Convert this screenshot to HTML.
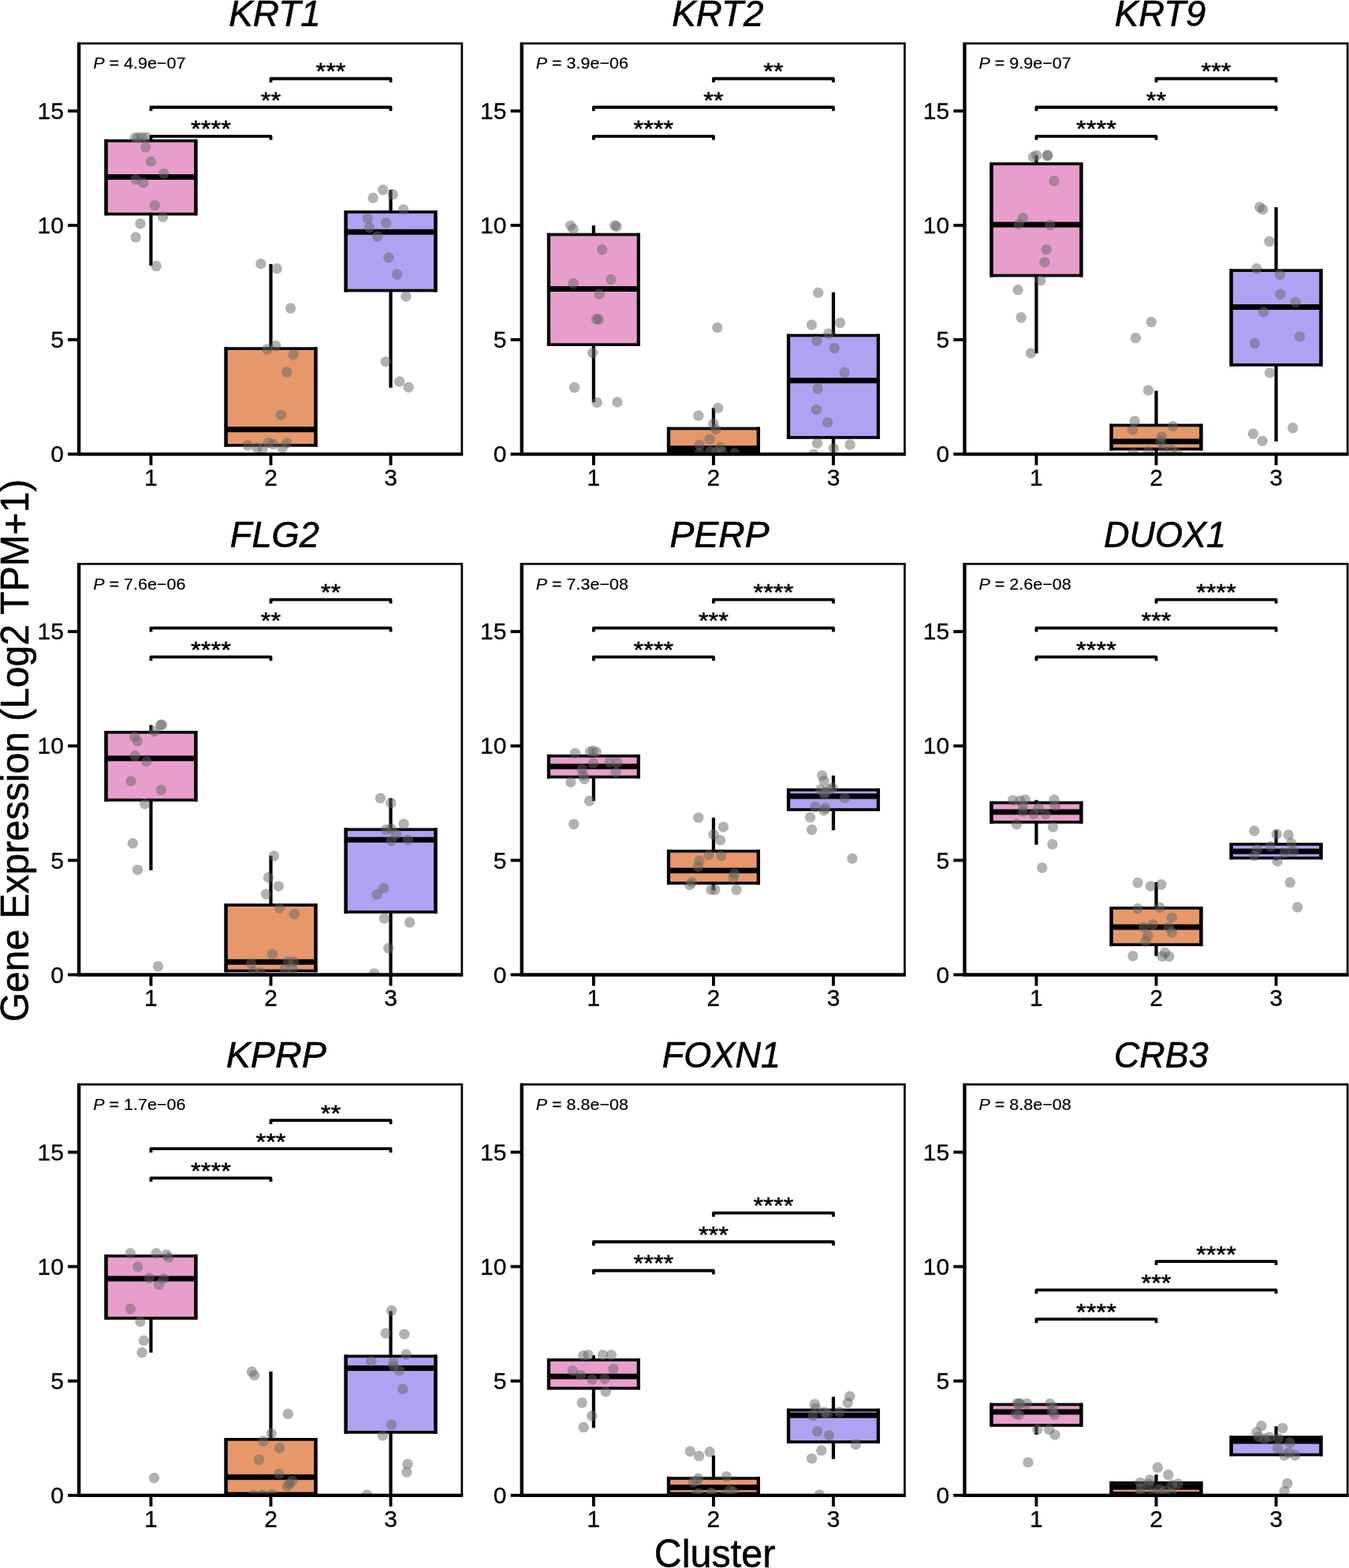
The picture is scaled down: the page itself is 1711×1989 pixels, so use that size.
<!DOCTYPE html>
<html lang="en">
<head>
<meta charset="utf-8">
<title>Gene expression by cluster</title>
<style>
html,body{margin:0;padding:0;background:#fff;}
body{width:1711px;height:1989px;overflow:hidden;}
svg{display:block;}
text{font-family:"Liberation Sans", Arial, Helvetica, sans-serif;fill:#000;}
.t{font-size:45.8px;font-style:italic;text-anchor:middle;stroke:#000;stroke-width:0.6px;}
.k{font-size:30px;stroke:#000;stroke-width:0.3px;}
.p{font-size:20.2px;stroke:#000;stroke-width:0.2px;}
.s{font-size:32.6px;text-anchor:middle;stroke:#000;stroke-width:0.55px;}
.a{font-size:48px;text-anchor:middle;stroke:#000;stroke-width:0.5px;}
.pt{fill:#666;fill-opacity:0.5;}
.bx{stroke:#000;stroke-width:3.7;stroke-linejoin:miter;}
.bv{stroke:#000;stroke-width:4.3px;fill:none;}
.md{stroke:#000;stroke-width:7.0;}
.wh{stroke:#000;stroke-width:4.2;}
.br{stroke:#000;stroke-width:3.8;fill:none;stroke-linejoin:round;}
.ax{stroke:#000;stroke-width:4.35;fill:none;stroke-linecap:butt;}
.tk{stroke:#000;stroke-width:3.9px;fill:none;}
.bd{stroke:#000;stroke-width:2.7;fill:none;}
</style>
</head>
<body>
<svg width="1711" height="1989" viewBox="0 0 1711 1989">
<rect x="0" y="0" width="1711" height="1989" fill="#fff"/>
<g id="panel-KRT1">
<clipPath id="c0"><rect x="100.15" y="55.1" width="485.7" height="520.95"/></clipPath>
<g clip-path="url(#c0)">
<line class="wh" x1="191.45" y1="271.51" x2="191.45" y2="336.97"/>
<rect class="bx" x="134.5" y="178.58" width="113.9" height="92.93" fill="#E89ECC"/>
<path class="bv" d="M134.5 176.73 V273.36 M248.4 176.73 V273.36"/>
<line class="md" x1="134.5" y1="224.61" x2="248.4" y2="224.61"/>
<line class="wh" x1="343.5" y1="334.92" x2="343.5" y2="442.17"/>
<rect class="bx" x="286.55" y="442.17" width="113.9" height="122.74" fill="#E6986A"/>
<path class="bv" d="M286.55 440.32 V566.75 M400.45 440.32 V566.75"/>
<line class="md" x1="286.55" y1="544.74" x2="400.45" y2="544.74"/>
<line class="wh" x1="495.55" y1="240.82" x2="495.55" y2="268.88"/>
<line class="wh" x1="495.55" y1="368.53" x2="495.55" y2="491.85"/>
<rect class="bx" x="438.6" y="268.88" width="113.9" height="99.65" fill="#B0A2F2"/>
<path class="bv" d="M438.6 267.03 V370.38 M552.5 267.03 V370.38"/>
<line class="md" x1="438.6" y1="294.3" x2="552.5" y2="294.3"/>
<circle class="pt" cx="171.27" cy="174.78" r="6.7"/>
<circle class="pt" cx="175.07" cy="174.78" r="6.7"/>
<circle class="pt" cx="180.04" cy="174.2" r="6.7"/>
<circle class="pt" cx="185.59" cy="174.2" r="6.7"/>
<circle class="pt" cx="184.71" cy="186.76" r="6.7"/>
<circle class="pt" cx="191.43" cy="204.88" r="6.7"/>
<circle class="pt" cx="207.8" cy="220.08" r="6.7"/>
<circle class="pt" cx="172.15" cy="227.67" r="6.7"/>
<circle class="pt" cx="181.79" cy="231.77" r="6.7"/>
<circle class="pt" cx="196.4" cy="260.4" r="6.7"/>
<circle class="pt" cx="206.63" cy="275.31" r="6.7"/>
<circle class="pt" cx="177.99" cy="283.78" r="6.7"/>
<circle class="pt" cx="172.15" cy="301.02" r="6.7"/>
<circle class="pt" cx="198.16" cy="337.55" r="6.7"/>
<circle class="pt" cx="330.83" cy="334.63" r="6.7"/>
<circle class="pt" cx="351.28" cy="340.77" r="6.7"/>
<circle class="pt" cx="368.52" cy="391.03" r="6.7"/>
<circle class="pt" cx="349.82" cy="438.66" r="6.7"/>
<circle class="pt" cx="339.01" cy="443.05" r="6.7"/>
<circle class="pt" cx="372.03" cy="450.06" r="6.7"/>
<circle class="pt" cx="363.85" cy="471.98" r="6.7"/>
<circle class="pt" cx="356.54" cy="526.33" r="6.7"/>
<circle class="pt" cx="314.17" cy="564.9" r="6.7"/>
<circle class="pt" cx="325.86" cy="567.83" r="6.7"/>
<circle class="pt" cx="333.16" cy="568.7" r="6.7"/>
<circle class="pt" cx="340.47" cy="561.4" r="6.7"/>
<circle class="pt" cx="346.32" cy="563.44" r="6.7"/>
<circle class="pt" cx="358" cy="568.12" r="6.7"/>
<circle class="pt" cx="363.85" cy="561.98" r="6.7"/>
<circle class="pt" cx="485.71" cy="240.82" r="6.7"/>
<circle class="pt" cx="473.14" cy="251.05" r="6.7"/>
<circle class="pt" cx="498.27" cy="246.67" r="6.7"/>
<circle class="pt" cx="511.72" cy="265.66" r="6.7"/>
<circle class="pt" cx="466.13" cy="277.06" r="6.7"/>
<circle class="pt" cx="489.8" cy="282.61" r="6.7"/>
<circle class="pt" cx="468.47" cy="288.75" r="6.7"/>
<circle class="pt" cx="478.69" cy="299.85" r="6.7"/>
<circle class="pt" cx="493.01" cy="326.74" r="6.7"/>
<circle class="pt" cx="503.53" cy="348.07" r="6.7"/>
<circle class="pt" cx="514.93" cy="376.13" r="6.7"/>
<circle class="pt" cx="489.21" cy="458.83" r="6.7"/>
<circle class="pt" cx="506.75" cy="483.96" r="6.7"/>
<circle class="pt" cx="518.14" cy="491.26" r="6.7"/>
</g>
<path class="br" d="M343.5 104.56 V99.76 H495.55 V104.56"/>
<text class="s" transform="translate(419.52 100.41) scale(1 0.92)">***</text>
<path class="br" d="M191.45 140.8 V136 H495.55 V140.8"/>
<text class="s" transform="translate(343.5 136.65) scale(1 0.92)">**</text>
<path class="br" d="M191.45 177.62 V172.82 H343.5 V177.62"/>
<text class="s" transform="translate(267.48 173.47) scale(1 0.92)">****</text>
<text class="p" transform="translate(118.15 87.3) scale(1.065 1)"><tspan font-style="italic">P</tspan> = 4.9e−07</text>
<rect class="bd" x="100.15" y="55.1" width="485.7" height="520.95"/>
<path class="ax" d="M100.15 53.75 V576.05"/>
<path class="ax" d="M97.98 576.05 H587.2"/>
<path class="tk" d="M85.98 576.05 H100.15"/>
<text class="k" text-anchor="end" x="80.85" y="586.25">0</text>
<path class="tk" d="M85.98 430.95 H100.15"/>
<text class="k" text-anchor="end" x="80.85" y="441.15">5</text>
<path class="tk" d="M85.98 285.85 H100.15"/>
<text class="k" text-anchor="end" x="80.85" y="296.05">10</text>
<path class="tk" d="M85.98 140.75 H100.15"/>
<text class="k" text-anchor="end" x="80.85" y="150.95">15</text>
<path class="tk" d="M191.45 576.05 V590.22"/>
<text class="k" text-anchor="middle" x="191.45" y="616.05">1</text>
<path class="tk" d="M343.5 576.05 V590.22"/>
<text class="k" text-anchor="middle" x="343.5" y="616.05">2</text>
<path class="tk" d="M495.55 576.05 V590.22"/>
<text class="k" text-anchor="middle" x="495.55" y="616.05">3</text>
<text class="t" transform="translate(348.55 32.8) scale(1.0055 1)">KRT1</text>
</g>
<g id="panel-KRT2">
<clipPath id="c1"><rect x="661.75" y="55.1" width="485.7" height="520.95"/></clipPath>
<g clip-path="url(#c1)">
<line class="wh" x1="752.9" y1="286.12" x2="752.9" y2="297.52"/>
<line class="wh" x1="752.9" y1="437.2" x2="752.9" y2="510.26"/>
<rect class="bx" x="695.95" y="297.52" width="113.9" height="139.68" fill="#E89ECC"/>
<path class="bv" d="M695.95 295.67 V439.05 M809.85 295.67 V439.05"/>
<line class="md" x1="695.95" y1="366.48" x2="809.85" y2="366.48"/>
<line class="wh" x1="904.95" y1="517.56" x2="904.95" y2="543.57"/>
<rect class="bx" x="848" y="543.57" width="113.9" height="29.51" fill="#E6986A"/>
<path class="bv" d="M848 541.72 V574.94 M961.9 541.72 V574.94"/>
<line class="md" x1="848" y1="568.7" x2="961.9" y2="568.7"/>
<line class="wh" x1="1057" y1="370.86" x2="1057" y2="425.51"/>
<line class="wh" x1="1057" y1="554.97" x2="1057" y2="576.01"/>
<rect class="bx" x="1000.05" y="425.51" width="113.9" height="129.46" fill="#B0A2F2"/>
<path class="bv" d="M1000.05 423.66 V556.82 M1113.95 423.66 V556.82"/>
<line class="md" x1="1000.05" y1="482.79" x2="1113.95" y2="482.79"/>
<circle class="pt" cx="723.63" cy="286.12" r="6.7"/>
<circle class="pt" cx="727.13" cy="290.5" r="6.7"/>
<circle class="pt" cx="779.74" cy="286.12" r="6.7"/>
<circle class="pt" cx="782.07" cy="287.29" r="6.7"/>
<circle class="pt" cx="763.66" cy="316.51" r="6.7"/>
<circle class="pt" cx="775.06" cy="354.5" r="6.7"/>
<circle class="pt" cx="727.13" cy="359.47" r="6.7"/>
<circle class="pt" cx="760.16" cy="372.91" r="6.7"/>
<circle class="pt" cx="756.36" cy="404.76" r="6.7"/>
<circle class="pt" cx="759.28" cy="405.06" r="6.7"/>
<circle class="pt" cx="751.68" cy="447.43" r="6.7"/>
<circle class="pt" cx="728.6" cy="491.55" r="6.7"/>
<circle class="pt" cx="757.23" cy="510.55" r="6.7"/>
<circle class="pt" cx="782.95" cy="509.96" r="6.7"/>
<circle class="pt" cx="909.78" cy="415.58" r="6.7"/>
<circle class="pt" cx="910.65" cy="517.56" r="6.7"/>
<circle class="pt" cx="885.81" cy="527.21" r="6.7"/>
<circle class="pt" cx="904.81" cy="537.43" r="6.7"/>
<circle class="pt" cx="907.73" cy="544.45" r="6.7"/>
<circle class="pt" cx="900.13" cy="557.31" r="6.7"/>
<circle class="pt" cx="887.27" cy="564.32" r="6.7"/>
<circle class="pt" cx="913.58" cy="567.24" r="6.7"/>
<circle class="pt" cx="887.27" cy="574.84" r="6.7"/>
<circle class="pt" cx="901.01" cy="572.5" r="6.7"/>
<circle class="pt" cx="908.32" cy="573.38" r="6.7"/>
<circle class="pt" cx="915.62" cy="573.38" r="6.7"/>
<circle class="pt" cx="931.69" cy="574.84" r="6.7"/>
<circle class="pt" cx="1037.77" cy="371.16" r="6.7"/>
<circle class="pt" cx="1029.59" cy="412.07" r="6.7"/>
<circle class="pt" cx="1065.53" cy="409.44" r="6.7"/>
<circle class="pt" cx="1050.92" cy="423.17" r="6.7"/>
<circle class="pt" cx="1036.02" cy="432.23" r="6.7"/>
<circle class="pt" cx="1058.23" cy="441.58" r="6.7"/>
<circle class="pt" cx="1071.09" cy="472.56" r="6.7"/>
<circle class="pt" cx="1037.19" cy="493.02" r="6.7"/>
<circle class="pt" cx="1035.43" cy="519.61" r="6.7"/>
<circle class="pt" cx="1049.75" cy="535.97" r="6.7"/>
<circle class="pt" cx="1036.6" cy="562.27" r="6.7"/>
<circle class="pt" cx="1078.1" cy="564.03" r="6.7"/>
<circle class="pt" cx="1057.35" cy="568.7" r="6.7"/>
<circle class="pt" cx="1031.93" cy="576.3" r="6.7"/>
</g>
<path class="br" d="M904.95 104.56 V99.76 H1057 V104.56"/>
<text class="s" transform="translate(980.98 100.41) scale(1 0.92)">**</text>
<path class="br" d="M752.9 140.8 V136 H1057 V140.8"/>
<text class="s" transform="translate(904.95 136.65) scale(1 0.92)">**</text>
<path class="br" d="M752.9 177.62 V172.82 H904.95 V177.62"/>
<text class="s" transform="translate(828.92 173.47) scale(1 0.92)">****</text>
<text class="p" transform="translate(679.75 87.3) scale(1.065 1)"><tspan font-style="italic">P</tspan> = 3.9e−06</text>
<rect class="bd" x="661.75" y="55.1" width="485.7" height="520.95"/>
<path class="ax" d="M661.75 53.75 V576.05"/>
<path class="ax" d="M659.58 576.05 H1148.8"/>
<path class="tk" d="M647.58 576.05 H661.75"/>
<text class="k" text-anchor="end" x="642.45" y="586.25">0</text>
<path class="tk" d="M647.58 430.95 H661.75"/>
<text class="k" text-anchor="end" x="642.45" y="441.15">5</text>
<path class="tk" d="M647.58 285.85 H661.75"/>
<text class="k" text-anchor="end" x="642.45" y="296.05">10</text>
<path class="tk" d="M647.58 140.75 H661.75"/>
<text class="k" text-anchor="end" x="642.45" y="150.95">15</text>
<path class="tk" d="M752.9 576.05 V590.22"/>
<text class="k" text-anchor="middle" x="752.9" y="616.05">1</text>
<path class="tk" d="M904.95 576.05 V590.22"/>
<text class="k" text-anchor="middle" x="904.95" y="616.05">2</text>
<path class="tk" d="M1057 576.05 V590.22"/>
<text class="k" text-anchor="middle" x="1057" y="616.05">3</text>
<text class="t" transform="translate(910.35 32.8) scale(1.0018 1)">KRT2</text>
</g>
<g id="panel-KRT9">
<clipPath id="c2"><rect x="1223.45" y="55.1" width="485.7" height="520.95"/></clipPath>
<g clip-path="url(#c2)">
<line class="wh" x1="1314.45" y1="196.99" x2="1314.45" y2="207.8"/>
<line class="wh" x1="1314.45" y1="349.53" x2="1314.45" y2="448.31"/>
<rect class="bx" x="1257.5" y="207.8" width="113.9" height="141.73" fill="#E89ECC"/>
<path class="bv" d="M1257.5 205.95 V351.38 M1371.4 205.95 V351.38"/>
<line class="md" x1="1257.5" y1="284.95" x2="1371.4" y2="284.95"/>
<line class="wh" x1="1466.5" y1="495.65" x2="1466.5" y2="539.48"/>
<line class="wh" x1="1466.5" y1="569.58" x2="1466.5" y2="576.01"/>
<rect class="bx" x="1409.55" y="539.48" width="113.9" height="30.1" fill="#E6986A"/>
<path class="bv" d="M1409.55 537.63 V571.43 M1523.45 537.63 V571.43"/>
<line class="md" x1="1409.55" y1="559.94" x2="1523.45" y2="559.94"/>
<line class="wh" x1="1618.55" y1="262.74" x2="1618.55" y2="343.1"/>
<line class="wh" x1="1618.55" y1="462.92" x2="1618.55" y2="559.94"/>
<rect class="bx" x="1561.6" y="343.1" width="113.9" height="119.81" fill="#B0A2F2"/>
<path class="bv" d="M1561.6 341.25 V464.77 M1675.5 341.25 V464.77"/>
<line class="md" x1="1561.6" y1="389.57" x2="1675.5" y2="389.57"/>
<circle class="pt" cx="1310.36" cy="199.04" r="6.7"/>
<circle class="pt" cx="1314.74" cy="196.99" r="6.7"/>
<circle class="pt" cx="1328.48" cy="196.99" r="6.7"/>
<circle class="pt" cx="1328.77" cy="197.28" r="6.7"/>
<circle class="pt" cx="1336.95" cy="229.43" r="6.7"/>
<circle class="pt" cx="1297.5" cy="276.48" r="6.7"/>
<circle class="pt" cx="1291.95" cy="284.37" r="6.7"/>
<circle class="pt" cx="1331.69" cy="285.24" r="6.7"/>
<circle class="pt" cx="1327.31" cy="316.51" r="6.7"/>
<circle class="pt" cx="1324.97" cy="332.58" r="6.7"/>
<circle class="pt" cx="1320" cy="355.67" r="6.7"/>
<circle class="pt" cx="1291.07" cy="367.65" r="6.7"/>
<circle class="pt" cx="1295.16" cy="402.72" r="6.7"/>
<circle class="pt" cx="1307.43" cy="448.01" r="6.7"/>
<circle class="pt" cx="1460.27" cy="408.56" r="6.7"/>
<circle class="pt" cx="1440.4" cy="428.73" r="6.7"/>
<circle class="pt" cx="1456.47" cy="495.06" r="6.7"/>
<circle class="pt" cx="1439.23" cy="534.22" r="6.7"/>
<circle class="pt" cx="1487.74" cy="540.65" r="6.7"/>
<circle class="pt" cx="1436.6" cy="545.32" r="6.7"/>
<circle class="pt" cx="1473.42" cy="554.09" r="6.7"/>
<circle class="pt" cx="1471.96" cy="559.94" r="6.7"/>
<circle class="pt" cx="1437.48" cy="574.84" r="6.7"/>
<circle class="pt" cx="1456.47" cy="572.79" r="6.7"/>
<circle class="pt" cx="1475.47" cy="568.7" r="6.7"/>
<circle class="pt" cx="1485.69" cy="570.16" r="6.7"/>
<circle class="pt" cx="1493" cy="574.84" r="6.7"/>
<circle class="pt" cx="1597.62" cy="262.74" r="6.7"/>
<circle class="pt" cx="1601.71" cy="265.66" r="6.7"/>
<circle class="pt" cx="1609.89" cy="306.28" r="6.7"/>
<circle class="pt" cx="1593.82" cy="340.77" r="6.7"/>
<circle class="pt" cx="1623.33" cy="348.36" r="6.7"/>
<circle class="pt" cx="1623.92" cy="373.2" r="6.7"/>
<circle class="pt" cx="1643.2" cy="383.14" r="6.7"/>
<circle class="pt" cx="1602.58" cy="395.7" r="6.7"/>
<circle class="pt" cx="1648.46" cy="426.97" r="6.7"/>
<circle class="pt" cx="1591.48" cy="435.45" r="6.7"/>
<circle class="pt" cx="1610.47" cy="472.85" r="6.7"/>
<circle class="pt" cx="1639.7" cy="542.69" r="6.7"/>
<circle class="pt" cx="1589.43" cy="550.29" r="6.7"/>
<circle class="pt" cx="1601.12" cy="559.35" r="6.7"/>
</g>
<path class="br" d="M1466.5 104.56 V99.76 H1618.55 V104.56"/>
<text class="s" transform="translate(1542.53 100.41) scale(1 0.92)">***</text>
<path class="br" d="M1314.45 140.8 V136 H1618.55 V140.8"/>
<text class="s" transform="translate(1466.5 136.65) scale(1 0.92)">**</text>
<path class="br" d="M1314.45 177.62 V172.82 H1466.5 V177.62"/>
<text class="s" transform="translate(1390.47 173.47) scale(1 0.92)">****</text>
<text class="p" transform="translate(1241.45 87.3) scale(1.065 1)"><tspan font-style="italic">P</tspan> = 9.9e−07</text>
<rect class="bd" x="1223.45" y="55.1" width="485.7" height="520.95"/>
<path class="ax" d="M1223.45 53.75 V576.05"/>
<path class="ax" d="M1221.28 576.05 H1710.5"/>
<path class="tk" d="M1209.28 576.05 H1223.45"/>
<text class="k" text-anchor="end" x="1204.15" y="586.25">0</text>
<path class="tk" d="M1209.28 430.95 H1223.45"/>
<text class="k" text-anchor="end" x="1204.15" y="441.15">5</text>
<path class="tk" d="M1209.28 285.85 H1223.45"/>
<text class="k" text-anchor="end" x="1204.15" y="296.05">10</text>
<path class="tk" d="M1209.28 140.75 H1223.45"/>
<text class="k" text-anchor="end" x="1204.15" y="150.95">15</text>
<path class="tk" d="M1314.45 576.05 V590.22"/>
<text class="k" text-anchor="middle" x="1314.45" y="616.05">1</text>
<path class="tk" d="M1466.5 576.05 V590.22"/>
<text class="k" text-anchor="middle" x="1466.5" y="616.05">2</text>
<path class="tk" d="M1618.55 576.05 V590.22"/>
<text class="k" text-anchor="middle" x="1618.55" y="616.05">3</text>
<text class="t" transform="translate(1471.55 32.8) scale(0.993 1)">KRT9</text>
</g>
<g id="panel-FLG2">
<clipPath id="c3"><rect x="100.15" y="715.3" width="485.7" height="521.15"/></clipPath>
<g clip-path="url(#c3)">
<line class="wh" x1="191.45" y1="919.82" x2="191.45" y2="928.88"/>
<line class="wh" x1="191.45" y1="1014.79" x2="191.45" y2="1103.92"/>
<rect class="bx" x="134.5" y="928.88" width="113.9" height="85.91" fill="#E89ECC"/>
<path class="bv" d="M134.5 927.03 V1016.64 M248.4 927.03 V1016.64"/>
<line class="md" x1="134.5" y1="961.9" x2="248.4" y2="961.9"/>
<line class="wh" x1="343.5" y1="1085.51" x2="343.5" y2="1148.05"/>
<rect class="bx" x="286.55" y="1148.05" width="113.9" height="83.46" fill="#E6986A"/>
<path class="bv" d="M286.55 1146.2 V1233.36 M400.45 1146.2 V1233.36"/>
<line class="md" x1="286.55" y1="1220.23" x2="400.45" y2="1220.23"/>
<line class="wh" x1="495.55" y1="1012.45" x2="495.55" y2="1052.2"/>
<line class="wh" x1="495.55" y1="1156.81" x2="495.55" y2="1236.01"/>
<rect class="bx" x="438.6" y="1052.2" width="113.9" height="104.62" fill="#B0A2F2"/>
<path class="bv" d="M438.6 1050.35 V1158.66 M552.5 1050.35 V1158.66"/>
<line class="md" x1="438.6" y1="1065.35" x2="552.5" y2="1065.35"/>
<circle class="pt" cx="203.71" cy="919.82" r="6.7"/>
<circle class="pt" cx="205.46" cy="919.23" r="6.7"/>
<circle class="pt" cx="195.82" cy="927.71" r="6.7"/>
<circle class="pt" cx="170.39" cy="934.43" r="6.7"/>
<circle class="pt" cx="174.49" cy="939.98" r="6.7"/>
<circle class="pt" cx="171.27" cy="958.68" r="6.7"/>
<circle class="pt" cx="185.88" cy="965.7" r="6.7"/>
<circle class="pt" cx="166.01" cy="990.83" r="6.7"/>
<circle class="pt" cx="204.29" cy="1001.93" r="6.7"/>
<circle class="pt" cx="183.84" cy="1019.76" r="6.7"/>
<circle class="pt" cx="168.35" cy="1069.73" r="6.7"/>
<circle class="pt" cx="174.49" cy="1103.34" r="6.7"/>
<circle class="pt" cx="200.49" cy="1225.78" r="6.7"/>
<circle class="pt" cx="347.48" cy="1085.8" r="6.7"/>
<circle class="pt" cx="340.47" cy="1112.98" r="6.7"/>
<circle class="pt" cx="353.33" cy="1124.09" r="6.7"/>
<circle class="pt" cx="337.55" cy="1134.31" r="6.7"/>
<circle class="pt" cx="354.5" cy="1151.85" r="6.7"/>
<circle class="pt" cx="373.2" cy="1159.44" r="6.7"/>
<circle class="pt" cx="345.44" cy="1210.29" r="6.7"/>
<circle class="pt" cx="318.55" cy="1221.98" r="6.7"/>
<circle class="pt" cx="365.31" cy="1219.94" r="6.7"/>
<circle class="pt" cx="372.62" cy="1219.94" r="6.7"/>
<circle class="pt" cx="321.48" cy="1232.5" r="6.7"/>
<circle class="pt" cx="330.24" cy="1233.38" r="6.7"/>
<circle class="pt" cx="360.93" cy="1229.58" r="6.7"/>
<circle class="pt" cx="371.15" cy="1228.7" r="6.7"/>
<circle class="pt" cx="482.49" cy="1012.45" r="6.7"/>
<circle class="pt" cx="495.94" cy="1018.59" r="6.7"/>
<circle class="pt" cx="512.01" cy="1045.18" r="6.7"/>
<circle class="pt" cx="489.51" cy="1052.49" r="6.7"/>
<circle class="pt" cx="495.94" cy="1051.32" r="6.7"/>
<circle class="pt" cx="502.66" cy="1058.33" r="6.7"/>
<circle class="pt" cx="496.23" cy="1066.52" r="6.7"/>
<circle class="pt" cx="517.27" cy="1065.35" r="6.7"/>
<circle class="pt" cx="486.88" cy="1126.42" r="6.7"/>
<circle class="pt" cx="478.11" cy="1134.61" r="6.7"/>
<circle class="pt" cx="487.46" cy="1165" r="6.7"/>
<circle class="pt" cx="519.61" cy="1169.96" r="6.7"/>
<circle class="pt" cx="492.72" cy="1202.69" r="6.7"/>
<circle class="pt" cx="474.6" cy="1234.84" r="6.7"/>
</g>
<path class="br" d="M343.5 765.44 V760.64 H495.55 V765.44"/>
<text class="s" transform="translate(419.52 761.29) scale(1 0.92)">**</text>
<path class="br" d="M191.45 801.38 V796.58 H495.55 V801.38"/>
<text class="s" transform="translate(343.5 797.23) scale(1 0.92)">**</text>
<path class="br" d="M191.45 838.2 V833.4 H343.5 V838.2"/>
<text class="s" transform="translate(267.48 834.05) scale(1 0.92)">****</text>
<text class="p" transform="translate(118.15 747.5) scale(1.065 1)"><tspan font-style="italic">P</tspan> = 7.6e−06</text>
<rect class="bd" x="100.15" y="715.3" width="485.7" height="521.15"/>
<path class="ax" d="M100.15 713.95 V1236.45"/>
<path class="ax" d="M97.98 1236.45 H587.2"/>
<path class="tk" d="M85.98 1236.45 H100.15"/>
<text class="k" text-anchor="end" x="80.85" y="1246.65">0</text>
<path class="tk" d="M85.98 1091.35 H100.15"/>
<text class="k" text-anchor="end" x="80.85" y="1101.55">5</text>
<path class="tk" d="M85.98 946.25 H100.15"/>
<text class="k" text-anchor="end" x="80.85" y="956.45">10</text>
<path class="tk" d="M85.98 801.15 H100.15"/>
<text class="k" text-anchor="end" x="80.85" y="811.35">15</text>
<path class="tk" d="M191.45 1236.45 V1250.62"/>
<text class="k" text-anchor="middle" x="191.45" y="1276.45">1</text>
<path class="tk" d="M343.5 1236.45 V1250.62"/>
<text class="k" text-anchor="middle" x="343.5" y="1276.45">2</text>
<path class="tk" d="M495.55 1236.45 V1250.62"/>
<text class="k" text-anchor="middle" x="495.55" y="1276.45">3</text>
<text class="t" transform="translate(348.35 693.8) scale(0.9876 1)">FLG2</text>
</g>
<g id="panel-PERP">
<clipPath id="c4"><rect x="661.75" y="715.3" width="485.7" height="521.15"/></clipPath>
<g clip-path="url(#c4)">
<line class="wh" x1="752.9" y1="985.57" x2="752.9" y2="1015.96"/>
<rect class="bx" x="695.95" y="958.98" width="113.9" height="26.59" fill="#E89ECC"/>
<path class="bv" d="M695.95 957.13 V987.42 M809.85 957.13 V987.42"/>
<line class="md" x1="695.95" y1="972.13" x2="809.85" y2="972.13"/>
<line class="wh" x1="904.95" y1="1037.29" x2="904.95" y2="1079.67"/>
<line class="wh" x1="904.95" y1="1120.29" x2="904.95" y2="1129.35"/>
<rect class="bx" x="848" y="1079.67" width="113.9" height="40.62" fill="#E6986A"/>
<path class="bv" d="M848 1077.82 V1122.14 M961.9 1077.82 V1122.14"/>
<line class="md" x1="848" y1="1104.21" x2="961.9" y2="1104.21"/>
<line class="wh" x1="1057" y1="983.82" x2="1057" y2="1001.93"/>
<line class="wh" x1="1057" y1="1027.07" x2="1057" y2="1053.37"/>
<rect class="bx" x="1000.05" y="1001.93" width="113.9" height="25.13" fill="#B0A2F2"/>
<path class="bv" d="M1000.05 1000.08 V1028.92 M1113.95 1000.08 V1028.92"/>
<line class="md" x1="1000.05" y1="1010.12" x2="1113.95" y2="1010.12"/>
<circle class="pt" cx="729.47" cy="955.47" r="6.7"/>
<circle class="pt" cx="748.47" cy="953.42" r="6.7"/>
<circle class="pt" cx="752.27" cy="952.55" r="6.7"/>
<circle class="pt" cx="756.36" cy="954.01" r="6.7"/>
<circle class="pt" cx="752.56" cy="968.04" r="6.7"/>
<circle class="pt" cx="773.01" cy="966.87" r="6.7"/>
<circle class="pt" cx="782.66" cy="967.16" r="6.7"/>
<circle class="pt" cx="737.95" cy="975.93" r="6.7"/>
<circle class="pt" cx="739.41" cy="983.23" r="6.7"/>
<circle class="pt" cx="781.2" cy="979.73" r="6.7"/>
<circle class="pt" cx="741.16" cy="988.2" r="6.7"/>
<circle class="pt" cx="723.92" cy="992" r="6.7"/>
<circle class="pt" cx="747.59" cy="1015.96" r="6.7"/>
<circle class="pt" cx="727.72" cy="1045.48" r="6.7"/>
<circle class="pt" cx="885.81" cy="1037.29" r="6.7"/>
<circle class="pt" cx="917.37" cy="1048.98" r="6.7"/>
<circle class="pt" cx="905.1" cy="1058.63" r="6.7"/>
<circle class="pt" cx="913.58" cy="1065.64" r="6.7"/>
<circle class="pt" cx="898.96" cy="1084.63" r="6.7"/>
<circle class="pt" cx="914.74" cy="1085.51" r="6.7"/>
<circle class="pt" cx="886.98" cy="1091.65" r="6.7"/>
<circle class="pt" cx="885.52" cy="1099.25" r="6.7"/>
<circle class="pt" cx="931.69" cy="1108.01" r="6.7"/>
<circle class="pt" cx="930.23" cy="1113.27" r="6.7"/>
<circle class="pt" cx="877.63" cy="1119.12" r="6.7"/>
<circle class="pt" cx="874.71" cy="1122.62" r="6.7"/>
<circle class="pt" cx="901.89" cy="1128.76" r="6.7"/>
<circle class="pt" cx="906.85" cy="1128.76" r="6.7"/>
<circle class="pt" cx="934.03" cy="1128.76" r="6.7"/>
<circle class="pt" cx="1042.74" cy="983.82" r="6.7"/>
<circle class="pt" cx="1045.08" cy="990.54" r="6.7"/>
<circle class="pt" cx="1040.69" cy="1001.64" r="6.7"/>
<circle class="pt" cx="1055.89" cy="999.3" r="6.7"/>
<circle class="pt" cx="1045.66" cy="1008.07" r="6.7"/>
<circle class="pt" cx="1071.38" cy="1012.16" r="6.7"/>
<circle class="pt" cx="1033.97" cy="1023.56" r="6.7"/>
<circle class="pt" cx="1047.12" cy="1025.02" r="6.7"/>
<circle class="pt" cx="1045.08" cy="1027.94" r="6.7"/>
<circle class="pt" cx="1027.54" cy="1036.71" r="6.7"/>
<circle class="pt" cx="1029.59" cy="1052.49" r="6.7"/>
<circle class="pt" cx="1081.02" cy="1089.02" r="6.7"/>
<circle class="pt" cx="1046.1" cy="1004.6" r="6.7"/>
<circle class="pt" cx="1052" cy="1001.5" r="6.7"/>
</g>
<path class="br" d="M904.95 765.44 V760.64 H1057 V765.44"/>
<text class="s" transform="translate(980.98 761.29) scale(1 0.92)">****</text>
<path class="br" d="M752.9 801.38 V796.58 H1057 V801.38"/>
<text class="s" transform="translate(904.95 797.23) scale(1 0.92)">***</text>
<path class="br" d="M752.9 838.2 V833.4 H904.95 V838.2"/>
<text class="s" transform="translate(828.92 834.05) scale(1 0.92)">****</text>
<text class="p" transform="translate(679.75 747.5) scale(1.065 1)"><tspan font-style="italic">P</tspan> = 7.3e−08</text>
<rect class="bd" x="661.75" y="715.3" width="485.7" height="521.15"/>
<path class="ax" d="M661.75 713.95 V1236.45"/>
<path class="ax" d="M659.58 1236.45 H1148.8"/>
<path class="tk" d="M647.58 1236.45 H661.75"/>
<text class="k" text-anchor="end" x="642.45" y="1246.65">0</text>
<path class="tk" d="M647.58 1091.35 H661.75"/>
<text class="k" text-anchor="end" x="642.45" y="1101.55">5</text>
<path class="tk" d="M647.58 946.25 H661.75"/>
<text class="k" text-anchor="end" x="642.45" y="956.45">10</text>
<path class="tk" d="M647.58 801.15 H661.75"/>
<text class="k" text-anchor="end" x="642.45" y="811.35">15</text>
<path class="tk" d="M752.9 1236.45 V1250.62"/>
<text class="k" text-anchor="middle" x="752.9" y="1276.45">1</text>
<path class="tk" d="M904.95 1236.45 V1250.62"/>
<text class="k" text-anchor="middle" x="904.95" y="1276.45">2</text>
<path class="tk" d="M1057 1236.45 V1250.62"/>
<text class="k" text-anchor="middle" x="1057" y="1276.45">3</text>
<text class="t" transform="translate(912.55 693.8) scale(1.0114 1)">PERP</text>
</g>
<g id="panel-DUOX1">
<clipPath id="c5"><rect x="1223.45" y="715.3" width="485.7" height="521.15"/></clipPath>
<g clip-path="url(#c5)">
<line class="wh" x1="1314.45" y1="1014.79" x2="1314.45" y2="1018.3"/>
<line class="wh" x1="1314.45" y1="1042.85" x2="1314.45" y2="1071.48"/>
<rect class="bx" x="1257.5" y="1018.3" width="113.9" height="24.55" fill="#E89ECC"/>
<path class="bv" d="M1257.5 1016.45 V1044.7 M1371.4 1016.45 V1044.7"/>
<line class="md" x1="1257.5" y1="1029.99" x2="1371.4" y2="1029.99"/>
<line class="wh" x1="1466.5" y1="1119.12" x2="1466.5" y2="1151.85"/>
<line class="wh" x1="1466.5" y1="1198.31" x2="1466.5" y2="1212.63"/>
<rect class="bx" x="1409.55" y="1151.85" width="113.9" height="46.46" fill="#E6986A"/>
<path class="bv" d="M1409.55 1150 V1200.16 M1523.45 1150 V1200.16"/>
<line class="md" x1="1409.55" y1="1176.1" x2="1523.45" y2="1176.1"/>
<line class="wh" x1="1618.55" y1="1053.37" x2="1618.55" y2="1070.9"/>
<line class="wh" x1="1618.55" y1="1088.43" x2="1618.55" y2="1091.36"/>
<rect class="bx" x="1561.6" y="1070.9" width="113.9" height="17.53" fill="#B0A2F2"/>
<path class="bv" d="M1561.6 1069.05 V1090.28 M1675.5 1069.05 V1090.28"/>
<line class="md" x1="1561.6" y1="1079.96" x2="1675.5" y2="1079.96"/>
<circle class="pt" cx="1284.64" cy="1015.08" r="6.7"/>
<circle class="pt" cx="1293.7" cy="1015.67" r="6.7"/>
<circle class="pt" cx="1300.42" cy="1014.5" r="6.7"/>
<circle class="pt" cx="1336.95" cy="1014.5" r="6.7"/>
<circle class="pt" cx="1297.5" cy="1022.1" r="6.7"/>
<circle class="pt" cx="1338.41" cy="1022.1" r="6.7"/>
<circle class="pt" cx="1317.08" cy="1024.73" r="6.7"/>
<circle class="pt" cx="1297.5" cy="1029.4" r="6.7"/>
<circle class="pt" cx="1311.23" cy="1032.62" r="6.7"/>
<circle class="pt" cx="1326.14" cy="1032.62" r="6.7"/>
<circle class="pt" cx="1289.32" cy="1045.48" r="6.7"/>
<circle class="pt" cx="1335.49" cy="1048.98" r="6.7"/>
<circle class="pt" cx="1334.9" cy="1070.9" r="6.7"/>
<circle class="pt" cx="1321.75" cy="1100.71" r="6.7"/>
<circle class="pt" cx="1443.03" cy="1119.7" r="6.7"/>
<circle class="pt" cx="1459.39" cy="1124.09" r="6.7"/>
<circle class="pt" cx="1472.84" cy="1122.04" r="6.7"/>
<circle class="pt" cx="1443.03" cy="1152.43" r="6.7"/>
<circle class="pt" cx="1471.08" cy="1151.26" r="6.7"/>
<circle class="pt" cx="1486.28" cy="1163.83" r="6.7"/>
<circle class="pt" cx="1462.32" cy="1172.59" r="6.7"/>
<circle class="pt" cx="1450.63" cy="1176.1" r="6.7"/>
<circle class="pt" cx="1482.19" cy="1176.1" r="6.7"/>
<circle class="pt" cx="1486.28" cy="1182.82" r="6.7"/>
<circle class="pt" cx="1455.89" cy="1186.91" r="6.7"/>
<circle class="pt" cx="1452.96" cy="1194.22" r="6.7"/>
<circle class="pt" cx="1436.89" cy="1212.63" r="6.7"/>
<circle class="pt" cx="1474" cy="1213.21" r="6.7"/>
<circle class="pt" cx="1482.77" cy="1213.21" r="6.7"/>
<circle class="pt" cx="1477.51" cy="1208.54" r="6.7"/>
<circle class="pt" cx="1590.89" cy="1053.95" r="6.7"/>
<circle class="pt" cx="1619.24" cy="1058.04" r="6.7"/>
<circle class="pt" cx="1634.14" cy="1058.92" r="6.7"/>
<circle class="pt" cx="1637.65" cy="1069.44" r="6.7"/>
<circle class="pt" cx="1611.35" cy="1073.82" r="6.7"/>
<circle class="pt" cx="1594.4" cy="1077.33" r="6.7"/>
<circle class="pt" cx="1640.57" cy="1079.67" r="6.7"/>
<circle class="pt" cx="1629.47" cy="1082" r="6.7"/>
<circle class="pt" cx="1590.6" cy="1085.51" r="6.7"/>
<circle class="pt" cx="1620.12" cy="1092.23" r="6.7"/>
<circle class="pt" cx="1636.19" cy="1119.41" r="6.7"/>
<circle class="pt" cx="1645.54" cy="1150.68" r="6.7"/>
</g>
<path class="br" d="M1466.5 765.44 V760.64 H1618.55 V765.44"/>
<text class="s" transform="translate(1542.53 761.29) scale(1 0.92)">****</text>
<path class="br" d="M1314.45 801.38 V796.58 H1618.55 V801.38"/>
<text class="s" transform="translate(1466.5 797.23) scale(1 0.92)">***</text>
<path class="br" d="M1314.45 838.2 V833.4 H1466.5 V838.2"/>
<text class="s" transform="translate(1390.47 834.05) scale(1 0.92)">****</text>
<text class="p" transform="translate(1241.45 747.5) scale(1.065 1)"><tspan font-style="italic">P</tspan> = 2.6e−08</text>
<rect class="bd" x="1223.45" y="715.3" width="485.7" height="521.15"/>
<path class="ax" d="M1223.45 713.95 V1236.45"/>
<path class="ax" d="M1221.28 1236.45 H1710.5"/>
<path class="tk" d="M1209.28 1236.45 H1223.45"/>
<text class="k" text-anchor="end" x="1204.15" y="1246.65">0</text>
<path class="tk" d="M1209.28 1091.35 H1223.45"/>
<text class="k" text-anchor="end" x="1204.15" y="1101.55">5</text>
<path class="tk" d="M1209.28 946.25 H1223.45"/>
<text class="k" text-anchor="end" x="1204.15" y="956.45">10</text>
<path class="tk" d="M1209.28 801.15 H1223.45"/>
<text class="k" text-anchor="end" x="1204.15" y="811.35">15</text>
<path class="tk" d="M1314.45 1236.45 V1250.62"/>
<text class="k" text-anchor="middle" x="1314.45" y="1276.45">1</text>
<path class="tk" d="M1466.5 1236.45 V1250.62"/>
<text class="k" text-anchor="middle" x="1466.5" y="1276.45">2</text>
<path class="tk" d="M1618.55 1236.45 V1250.62"/>
<text class="k" text-anchor="middle" x="1618.55" y="1276.45">3</text>
<text class="t" transform="translate(1477.55 693.8) scale(0.9842 1)">DUOX1</text>
</g>
<g id="panel-KPRP">
<clipPath id="c6"><rect x="100.15" y="1375.6" width="485.7" height="521.25"/></clipPath>
<g clip-path="url(#c6)">
<line class="wh" x1="191.45" y1="1672.16" x2="191.45" y2="1715.7"/>
<rect class="bx" x="134.5" y="1593.26" width="113.9" height="78.9" fill="#E89ECC"/>
<path class="bv" d="M134.5 1591.41 V1674.01 M248.4 1591.41 V1674.01"/>
<line class="md" x1="134.5" y1="1621.9" x2="248.4" y2="1621.9"/>
<line class="wh" x1="343.5" y1="1739.67" x2="343.5" y2="1825.87"/>
<rect class="bx" x="286.55" y="1825.87" width="113.9" height="68.67" fill="#E6986A"/>
<path class="bv" d="M286.55 1824.02 V1896.4 M400.45 1824.02 V1896.4"/>
<line class="md" x1="286.55" y1="1873.8" x2="400.45" y2="1873.8"/>
<line class="wh" x1="495.55" y1="1663.1" x2="495.55" y2="1720.38"/>
<line class="wh" x1="495.55" y1="1816.81" x2="495.55" y2="1896.01"/>
<rect class="bx" x="438.6" y="1720.38" width="113.9" height="96.43" fill="#B0A2F2"/>
<path class="bv" d="M438.6 1718.53 V1818.66 M552.5 1718.53 V1818.66"/>
<line class="md" x1="438.6" y1="1735.58" x2="552.5" y2="1735.58"/>
<circle class="pt" cx="165.43" cy="1589.75" r="6.7"/>
<circle class="pt" cx="198.16" cy="1589.75" r="6.7"/>
<circle class="pt" cx="211.01" cy="1591.51" r="6.7"/>
<circle class="pt" cx="213.94" cy="1595.01" r="6.7"/>
<circle class="pt" cx="174.78" cy="1607" r="6.7"/>
<circle class="pt" cx="189.39" cy="1621.32" r="6.7"/>
<circle class="pt" cx="207.51" cy="1621.9" r="6.7"/>
<circle class="pt" cx="201.66" cy="1629.5" r="6.7"/>
<circle class="pt" cx="165.43" cy="1660.18" r="6.7"/>
<circle class="pt" cx="177.99" cy="1676.55" r="6.7"/>
<circle class="pt" cx="182.38" cy="1700.51" r="6.7"/>
<circle class="pt" cx="180.04" cy="1715.7" r="6.7"/>
<circle class="pt" cx="195.53" cy="1874.68" r="6.7"/>
<circle class="pt" cx="319.43" cy="1739.96" r="6.7"/>
<circle class="pt" cx="322.64" cy="1744.63" r="6.7"/>
<circle class="pt" cx="365.31" cy="1793.44" r="6.7"/>
<circle class="pt" cx="344.27" cy="1818.57" r="6.7"/>
<circle class="pt" cx="334.04" cy="1827.92" r="6.7"/>
<circle class="pt" cx="354.5" cy="1836.69" r="6.7"/>
<circle class="pt" cx="328.49" cy="1851.59" r="6.7"/>
<circle class="pt" cx="353.91" cy="1869.42" r="6.7"/>
<circle class="pt" cx="370.57" cy="1878.47" r="6.7"/>
<circle class="pt" cx="367.36" cy="1881.98" r="6.7"/>
<circle class="pt" cx="364.43" cy="1885.2" r="6.7"/>
<circle class="pt" cx="321.48" cy="1896.3" r="6.7"/>
<circle class="pt" cx="333.16" cy="1896.3" r="6.7"/>
<circle class="pt" cx="344.85" cy="1895.42" r="6.7"/>
<circle class="pt" cx="496.52" cy="1662.52" r="6.7"/>
<circle class="pt" cx="489.21" cy="1691.16" r="6.7"/>
<circle class="pt" cx="512.88" cy="1692.33" r="6.7"/>
<circle class="pt" cx="515.22" cy="1718.04" r="6.7"/>
<circle class="pt" cx="470.8" cy="1726.81" r="6.7"/>
<circle class="pt" cx="499.15" cy="1727.98" r="6.7"/>
<circle class="pt" cx="499.15" cy="1733.24" r="6.7"/>
<circle class="pt" cx="506.46" cy="1738.21" r="6.7"/>
<circle class="pt" cx="510.84" cy="1761.88" r="6.7"/>
<circle class="pt" cx="496.52" cy="1807.17" r="6.7"/>
<circle class="pt" cx="485.41" cy="1820.91" r="6.7"/>
<circle class="pt" cx="516.98" cy="1857.14" r="6.7"/>
<circle class="pt" cx="515.81" cy="1867.37" r="6.7"/>
<circle class="pt" cx="465.54" cy="1896.3" r="6.7"/>
</g>
<path class="br" d="M343.5 1426.02 V1421.22 H495.55 V1426.02"/>
<text class="s" transform="translate(419.52 1421.87) scale(1 0.92)">**</text>
<path class="br" d="M191.45 1461.97 V1457.17 H495.55 V1461.97"/>
<text class="s" transform="translate(343.5 1457.82) scale(1 0.92)">***</text>
<path class="br" d="M191.45 1499.08 V1494.28 H343.5 V1499.08"/>
<text class="s" transform="translate(267.48 1494.93) scale(1 0.92)">****</text>
<text class="p" transform="translate(118.15 1407.8) scale(1.065 1)"><tspan font-style="italic">P</tspan> = 1.7e−06</text>
<rect class="bd" x="100.15" y="1375.6" width="485.7" height="521.25"/>
<path class="ax" d="M100.15 1374.25 V1896.85"/>
<path class="ax" d="M97.98 1896.85 H587.2"/>
<path class="tk" d="M85.98 1896.85 H100.15"/>
<text class="k" text-anchor="end" x="80.85" y="1907.05">0</text>
<path class="tk" d="M85.98 1751.75 H100.15"/>
<text class="k" text-anchor="end" x="80.85" y="1761.95">5</text>
<path class="tk" d="M85.98 1606.65 H100.15"/>
<text class="k" text-anchor="end" x="80.85" y="1616.85">10</text>
<path class="tk" d="M85.98 1461.55 H100.15"/>
<text class="k" text-anchor="end" x="80.85" y="1471.75">15</text>
<path class="tk" d="M191.45 1896.85 V1911.02"/>
<text class="k" text-anchor="middle" x="191.45" y="1936.85">1</text>
<path class="tk" d="M343.5 1896.85 V1911.02"/>
<text class="k" text-anchor="middle" x="343.5" y="1936.85">2</text>
<path class="tk" d="M495.55 1896.85 V1911.02"/>
<text class="k" text-anchor="middle" x="495.55" y="1936.85">3</text>
<text class="t" transform="translate(350.25 1354.2) scale(1.0195 1)">KPRP</text>
</g>
<g id="panel-FOXN1">
<clipPath id="c7"><rect x="661.75" y="1375.6" width="485.7" height="521.25"/></clipPath>
<g clip-path="url(#c7)">
<line class="wh" x1="752.9" y1="1719.21" x2="752.9" y2="1725.06"/>
<line class="wh" x1="752.9" y1="1761" x2="752.9" y2="1811.26"/>
<rect class="bx" x="695.95" y="1725.06" width="113.9" height="35.94" fill="#E89ECC"/>
<path class="bv" d="M695.95 1723.21 V1762.85 M809.85 1723.21 V1762.85"/>
<line class="md" x1="695.95" y1="1746.1" x2="809.85" y2="1746.1"/>
<line class="wh" x1="904.95" y1="1846.33" x2="904.95" y2="1875.26"/>
<rect class="bx" x="848" y="1875.26" width="113.9" height="19.29" fill="#E6986A"/>
<path class="bv" d="M848 1873.41 V1896.4 M961.9 1873.41 V1896.4"/>
<line class="md" x1="848" y1="1886.66" x2="961.9" y2="1886.66"/>
<line class="wh" x1="1057" y1="1771.81" x2="1057" y2="1788.61"/>
<line class="wh" x1="1057" y1="1829.09" x2="1057" y2="1850.71"/>
<rect class="bx" x="1000.05" y="1788.61" width="113.9" height="40.47" fill="#B0A2F2"/>
<path class="bv" d="M1000.05 1786.76 V1830.94 M1113.95 1786.76 V1830.94"/>
<line class="md" x1="1000.05" y1="1795.37" x2="1113.95" y2="1795.37"/>
<circle class="pt" cx="739.7" cy="1719.8" r="6.7"/>
<circle class="pt" cx="746.13" cy="1718.63" r="6.7"/>
<circle class="pt" cx="764.54" cy="1718.63" r="6.7"/>
<circle class="pt" cx="775.35" cy="1718.63" r="6.7"/>
<circle class="pt" cx="726.26" cy="1738.79" r="6.7"/>
<circle class="pt" cx="777.98" cy="1736.45" r="6.7"/>
<circle class="pt" cx="736.49" cy="1744.34" r="6.7"/>
<circle class="pt" cx="751.1" cy="1749.89" r="6.7"/>
<circle class="pt" cx="766.88" cy="1749.02" r="6.7"/>
<circle class="pt" cx="768.34" cy="1765.38" r="6.7"/>
<circle class="pt" cx="738.24" cy="1779.41" r="6.7"/>
<circle class="pt" cx="750.8" cy="1796.07" r="6.7"/>
<circle class="pt" cx="740.28" cy="1810.39" r="6.7"/>
<circle class="pt" cx="875.29" cy="1841.07" r="6.7"/>
<circle class="pt" cx="886.69" cy="1846.91" r="6.7"/>
<circle class="pt" cx="900.13" cy="1841.65" r="6.7"/>
<circle class="pt" cx="921.47" cy="1872.92" r="6.7"/>
<circle class="pt" cx="885.81" cy="1875.55" r="6.7"/>
<circle class="pt" cx="879.09" cy="1879.94" r="6.7"/>
<circle class="pt" cx="883.48" cy="1878.47" r="6.7"/>
<circle class="pt" cx="925.85" cy="1890.16" r="6.7"/>
<circle class="pt" cx="902.47" cy="1894.84" r="6.7"/>
<circle class="pt" cx="883.48" cy="1896.3" r="6.7"/>
<circle class="pt" cx="920" cy="1895.42" r="6.7"/>
<circle class="pt" cx="930" cy="1892.55" r="6.7"/>
<circle class="pt" cx="902.2" cy="1893.45" r="6.7"/>
<circle class="pt" cx="885.8" cy="1894.25" r="6.7"/>
<circle class="pt" cx="1077.81" cy="1771.23" r="6.7"/>
<circle class="pt" cx="1075.18" cy="1779.41" r="6.7"/>
<circle class="pt" cx="1033.39" cy="1781.16" r="6.7"/>
<circle class="pt" cx="1034.85" cy="1786.42" r="6.7"/>
<circle class="pt" cx="1045.66" cy="1791.39" r="6.7"/>
<circle class="pt" cx="1064.95" cy="1791.1" r="6.7"/>
<circle class="pt" cx="1031.05" cy="1795.77" r="6.7"/>
<circle class="pt" cx="1049.46" cy="1793.14" r="6.7"/>
<circle class="pt" cx="1036.6" cy="1815.65" r="6.7"/>
<circle class="pt" cx="1051.51" cy="1820.61" r="6.7"/>
<circle class="pt" cx="1085.4" cy="1832.3" r="6.7"/>
<circle class="pt" cx="1041.86" cy="1839.9" r="6.7"/>
<circle class="pt" cx="1029.59" cy="1850.13" r="6.7"/>
<circle class="pt" cx="1039.23" cy="1896.3" r="6.7"/>
</g>
<path class="br" d="M904.95 1543.5 V1538.7 H1057 V1543.5"/>
<text class="s" transform="translate(980.98 1539.35) scale(1 0.92)">****</text>
<path class="br" d="M752.9 1580.03 V1575.23 H1057 V1580.03"/>
<text class="s" transform="translate(904.95 1575.88) scale(1 0.92)">***</text>
<path class="br" d="M752.9 1616.56 V1611.76 H904.95 V1616.56"/>
<text class="s" transform="translate(828.92 1612.41) scale(1 0.92)">****</text>
<text class="p" transform="translate(679.75 1407.8) scale(1.065 1)"><tspan font-style="italic">P</tspan> = 8.8e−08</text>
<rect class="bd" x="661.75" y="1375.6" width="485.7" height="521.25"/>
<path class="ax" d="M661.75 1374.25 V1896.85"/>
<path class="ax" d="M659.58 1896.85 H1148.8"/>
<path class="tk" d="M647.58 1896.85 H661.75"/>
<text class="k" text-anchor="end" x="642.45" y="1907.05">0</text>
<path class="tk" d="M647.58 1751.75 H661.75"/>
<text class="k" text-anchor="end" x="642.45" y="1761.95">5</text>
<path class="tk" d="M647.58 1606.65 H661.75"/>
<text class="k" text-anchor="end" x="642.45" y="1616.85">10</text>
<path class="tk" d="M647.58 1461.55 H661.75"/>
<text class="k" text-anchor="end" x="642.45" y="1471.75">15</text>
<path class="tk" d="M752.9 1896.85 V1911.02"/>
<text class="k" text-anchor="middle" x="752.9" y="1936.85">1</text>
<path class="tk" d="M904.95 1896.85 V1911.02"/>
<text class="k" text-anchor="middle" x="904.95" y="1936.85">2</text>
<path class="tk" d="M1057 1896.85 V1911.02"/>
<text class="k" text-anchor="middle" x="1057" y="1936.85">3</text>
<text class="t" transform="translate(914.95 1354.2) scale(0.985 1)">FOXN1</text>
</g>
<g id="panel-CRB3">
<clipPath id="c8"><rect x="1223.45" y="1375.6" width="485.7" height="521.25"/></clipPath>
<g clip-path="url(#c8)">
<line class="wh" x1="1314.45" y1="1808" x2="1314.45" y2="1820.1"/>
<rect class="bx" x="1257.5" y="1781.6" width="113.9" height="26.4" fill="#E89ECC"/>
<path class="bv" d="M1257.5 1779.75 V1809.85 M1371.4 1779.75 V1809.85"/>
<line class="md" x1="1257.5" y1="1791.1" x2="1371.4" y2="1791.1"/>
<line class="wh" x1="1466.5" y1="1870.5" x2="1466.5" y2="1881"/>
<rect class="bx" x="1409.55" y="1881" width="113.9" height="13" fill="#E6986A"/>
<path class="bv" d="M1409.55 1879.15 V1895.85 M1523.45 1879.15 V1895.85"/>
<line class="md" x1="1409.55" y1="1886.2" x2="1523.45" y2="1886.2"/>
<line class="wh" x1="1618.55" y1="1809.3" x2="1618.55" y2="1823.1"/>
<rect class="bx" x="1561.6" y="1823.1" width="113.9" height="22.3" fill="#B0A2F2"/>
<path class="bv" d="M1561.6 1821.25 V1847.25 M1675.5 1821.25 V1847.25"/>
<line class="md" x1="1561.6" y1="1827.9" x2="1675.5" y2="1827.9"/>
<circle class="pt" cx="1290.1" cy="1780.5" r="6.7"/>
<circle class="pt" cx="1292" cy="1780.8" r="6.7"/>
<circle class="pt" cx="1293.8" cy="1780.5" r="6.7"/>
<circle class="pt" cx="1302.4" cy="1780.5" r="6.7"/>
<circle class="pt" cx="1288.5" cy="1793.6" r="6.7"/>
<circle class="pt" cx="1292.6" cy="1794.8" r="6.7"/>
<circle class="pt" cx="1331.8" cy="1780.5" r="6.7"/>
<circle class="pt" cx="1335.9" cy="1785.4" r="6.7"/>
<circle class="pt" cx="1334.3" cy="1790.3" r="6.7"/>
<circle class="pt" cx="1337.6" cy="1794.4" r="6.7"/>
<circle class="pt" cx="1315.9" cy="1813.2" r="6.7"/>
<circle class="pt" cx="1330.6" cy="1813.2" r="6.7"/>
<circle class="pt" cx="1338" cy="1820.1" r="6.7"/>
<circle class="pt" cx="1304" cy="1854.9" r="6.7"/>
<circle class="pt" cx="1468.3" cy="1861.5" r="6.7"/>
<circle class="pt" cx="1481.8" cy="1870.8" r="6.7"/>
<circle class="pt" cx="1458.5" cy="1877.3" r="6.7"/>
<circle class="pt" cx="1446.2" cy="1880.6" r="6.7"/>
<circle class="pt" cx="1457.3" cy="1882.7" r="6.7"/>
<circle class="pt" cx="1494.1" cy="1882.2" r="6.7"/>
<circle class="pt" cx="1486.7" cy="1883.5" r="6.7"/>
<circle class="pt" cx="1446.6" cy="1888.4" r="6.7"/>
<circle class="pt" cx="1469.6" cy="1889.2" r="6.7"/>
<circle class="pt" cx="1477.7" cy="1890.8" r="6.7"/>
<circle class="pt" cx="1446.6" cy="1894.5" r="6.7"/>
<circle class="pt" cx="1462.2" cy="1894.5" r="6.7"/>
<circle class="pt" cx="1473.6" cy="1894.5" r="6.7"/>
<circle class="pt" cx="1485.9" cy="1894.5" r="6.7"/>
<circle class="pt" cx="1599.9" cy="1808.8" r="6.7"/>
<circle class="pt" cx="1593.8" cy="1816.8" r="6.7"/>
<circle class="pt" cx="1626.7" cy="1811.6" r="6.7"/>
<circle class="pt" cx="1596.1" cy="1822.5" r="6.7"/>
<circle class="pt" cx="1603.6" cy="1825.3" r="6.7"/>
<circle class="pt" cx="1609.8" cy="1822.9" r="6.7"/>
<circle class="pt" cx="1621.5" cy="1824.8" r="6.7"/>
<circle class="pt" cx="1636.1" cy="1830" r="6.7"/>
<circle class="pt" cx="1620.6" cy="1837" r="6.7"/>
<circle class="pt" cx="1634.7" cy="1842.7" r="6.7"/>
<circle class="pt" cx="1629" cy="1846" r="6.7"/>
<circle class="pt" cx="1642.7" cy="1846" r="6.7"/>
<circle class="pt" cx="1632.8" cy="1881.7" r="6.7"/>
<circle class="pt" cx="1629" cy="1891.6" r="6.7"/>
</g>
<path class="br" d="M1466.5 1604.87 V1600.07 H1618.55 V1604.87"/>
<text class="s" transform="translate(1542.53 1600.72) scale(1 0.92)">****</text>
<path class="br" d="M1314.45 1641.1 V1636.3 H1618.55 V1641.1"/>
<text class="s" transform="translate(1466.5 1636.95) scale(1 0.92)">***</text>
<path class="br" d="M1314.45 1678.22 V1673.42 H1466.5 V1678.22"/>
<text class="s" transform="translate(1390.47 1674.07) scale(1 0.92)">****</text>
<text class="p" transform="translate(1241.45 1407.8) scale(1.065 1)"><tspan font-style="italic">P</tspan> = 8.8e−08</text>
<rect class="bd" x="1223.45" y="1375.6" width="485.7" height="521.25"/>
<path class="ax" d="M1223.45 1374.25 V1896.85"/>
<path class="ax" d="M1221.28 1896.85 H1710.5"/>
<path class="tk" d="M1209.28 1896.85 H1223.45"/>
<text class="k" text-anchor="end" x="1204.15" y="1907.05">0</text>
<path class="tk" d="M1209.28 1751.75 H1223.45"/>
<text class="k" text-anchor="end" x="1204.15" y="1761.95">5</text>
<path class="tk" d="M1209.28 1606.65 H1223.45"/>
<text class="k" text-anchor="end" x="1204.15" y="1616.85">10</text>
<path class="tk" d="M1209.28 1461.55 H1223.45"/>
<text class="k" text-anchor="end" x="1204.15" y="1471.75">15</text>
<path class="tk" d="M1314.45 1896.85 V1911.02"/>
<text class="k" text-anchor="middle" x="1314.45" y="1936.85">1</text>
<path class="tk" d="M1466.5 1896.85 V1911.02"/>
<text class="k" text-anchor="middle" x="1466.5" y="1936.85">2</text>
<path class="tk" d="M1618.55 1896.85 V1911.02"/>
<text class="k" text-anchor="middle" x="1618.55" y="1936.85">3</text>
<text class="t" transform="translate(1472.75 1354.2) scale(0.9798 1)">CRB3</text>
</g>
<text class="a" transform="translate(36.2 952) rotate(-90) scale(1 1.045)" x="0" y="0">Gene Expression (Log2 TPM+1)</text>
<text class="a" transform="translate(906.6 1987.6) scale(1.01 1.04)">Cluster</text>
</svg>
</body>
</html>
